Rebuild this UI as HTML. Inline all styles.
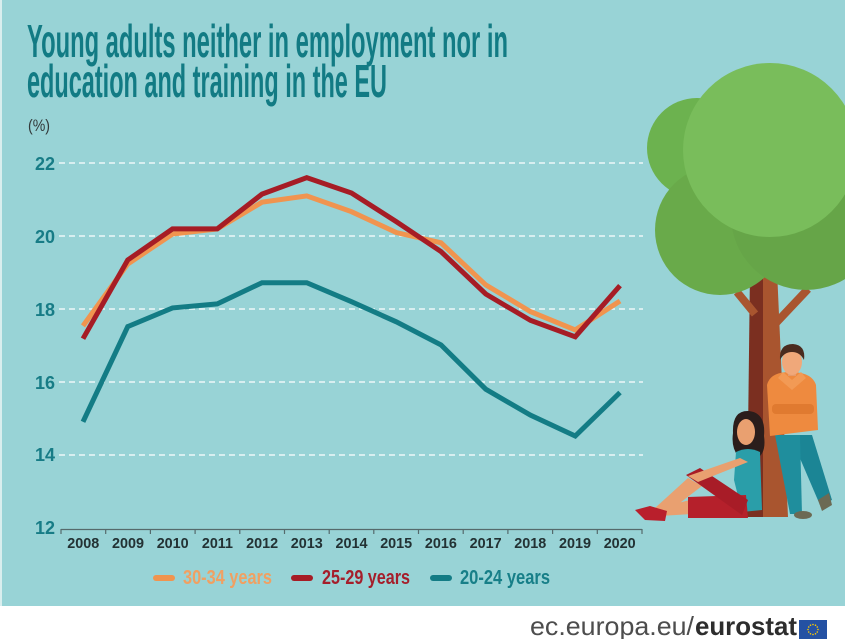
<!DOCTYPE html>
<html>
<head>
<meta charset="utf-8">
<style>
  html, body { margin:0; padding:0; background:#ffffff; }
  body { width:845px; height:639px; overflow:hidden; }
  svg { display:block; }
  .t { font-family:"Liberation Sans Narrow","Liberation Sans",sans-serif; }
</style>
</head>
<body>
<svg width="845" height="639" viewBox="0 0 845 639" xmlns="http://www.w3.org/2000/svg">
  <!-- background panel -->
  <rect x="0" y="0" width="845" height="639" fill="#ffffff"/>
  <rect x="0" y="0" width="845" height="606" fill="#98d3d6"/>
  <rect x="0" y="0" width="2" height="606" fill="#d9eeee"/>

  <!-- Title -->
  <text class="t" x="27" y="57" font-size="46" font-weight="bold" fill="#127b84" textLength="481" lengthAdjust="spacingAndGlyphs">Young adults neither in employment nor in</text>
  <text class="t" x="27" y="97" font-size="46" font-weight="bold" fill="#127b84" textLength="360" lengthAdjust="spacingAndGlyphs">education and training in the EU</text>
  <text class="t" x="28" y="131" font-size="17" fill="#333a3b" textLength="22" lengthAdjust="spacingAndGlyphs">(%)</text>

  <!-- Gridlines -->
  <g stroke="#eef8f8" stroke-width="1.6" stroke-dasharray="6,4" fill="none">
    <line x1="59" y1="163" x2="643" y2="163"/>
    <line x1="59" y1="236" x2="643" y2="236"/>
    <line x1="59" y1="309" x2="643" y2="309"/>
    <line x1="59" y1="382" x2="643" y2="382"/>
    <line x1="59" y1="455" x2="643" y2="455"/>
  </g>

  <!-- Y labels -->
  <g class="t" font-size="18" font-weight="bold" fill="#177c86" text-anchor="end">
    <text x="55" y="170">22</text>
    <text x="55" y="243">20</text>
    <text x="55" y="316">18</text>
    <text x="55" y="389">16</text>
    <text x="55" y="461">14</text>
    <text x="55" y="534">12</text>
  </g>

  <!-- X axis -->
  <line x1="61" y1="529.5" x2="642" y2="529.5" stroke="#556a6c" stroke-width="1.2"/>
  <g stroke="#556a6c" stroke-width="1.2">
    <line x1="61" y1="529" x2="61" y2="534"/>
    <line x1="105.7" y1="529" x2="105.7" y2="534"/>
    <line x1="150.4" y1="529" x2="150.4" y2="534"/>
    <line x1="195.1" y1="529" x2="195.1" y2="534"/>
    <line x1="239.8" y1="529" x2="239.8" y2="534"/>
    <line x1="284.5" y1="529" x2="284.5" y2="534"/>
    <line x1="329.2" y1="529" x2="329.2" y2="534"/>
    <line x1="373.8" y1="529" x2="373.8" y2="534"/>
    <line x1="418.5" y1="529" x2="418.5" y2="534"/>
    <line x1="463.2" y1="529" x2="463.2" y2="534"/>
    <line x1="507.9" y1="529" x2="507.9" y2="534"/>
    <line x1="552.6" y1="529" x2="552.6" y2="534"/>
    <line x1="597.3" y1="529" x2="597.3" y2="534"/>
    <line x1="642" y1="529" x2="642" y2="534"/>
  </g>
  <g class="t" font-size="15" font-weight="bold" fill="#233234" text-anchor="middle">
    <text x="83.3" y="548" textLength="32" lengthAdjust="spacingAndGlyphs">2008</text>
    <text x="128" y="548" textLength="32" lengthAdjust="spacingAndGlyphs">2009</text>
    <text x="172.7" y="548" textLength="32" lengthAdjust="spacingAndGlyphs">2010</text>
    <text x="217.4" y="548" textLength="31" lengthAdjust="spacingAndGlyphs">2011</text>
    <text x="262.1" y="548" textLength="32" lengthAdjust="spacingAndGlyphs">2012</text>
    <text x="306.8" y="548" textLength="32" lengthAdjust="spacingAndGlyphs">2013</text>
    <text x="351.5" y="548" textLength="32" lengthAdjust="spacingAndGlyphs">2014</text>
    <text x="396.2" y="548" textLength="32" lengthAdjust="spacingAndGlyphs">2015</text>
    <text x="440.9" y="548" textLength="32" lengthAdjust="spacingAndGlyphs">2016</text>
    <text x="485.6" y="548" textLength="32" lengthAdjust="spacingAndGlyphs">2017</text>
    <text x="530.3" y="548" textLength="32" lengthAdjust="spacingAndGlyphs">2018</text>
    <text x="575" y="548" textLength="32" lengthAdjust="spacingAndGlyphs">2019</text>
    <text x="619.7" y="548" textLength="32" lengthAdjust="spacingAndGlyphs">2020</text>
  </g>

  <!-- Series -->
  <g fill="none" stroke-width="5" stroke-linejoin="miter" stroke-linecap="butt">
    <polyline stroke="#f0944f" points="83,325.9 127.75,264 172.5,234 217.25,228.9 262,202.2 306.75,195.9 351.5,211.7 396.25,232.5 441,242.8 485.75,284.9 530.5,311.6 575.25,329.9 620,301"/>
    <polyline stroke="#a61c25" points="83,338.7 127.75,260 172.5,228.9 217.25,228.9 262,194.1 306.75,177.6 351.5,193 396.25,221.6 441,251.6 485.75,294 530.5,320.4 575.25,336.8 620,285.6"/>
    <polyline stroke="#137c85" points="83,421.8 127.75,326.6 172.5,307.9 217.25,303.9 262,282.7 306.75,282.7 351.5,301.7 396.25,321.8 441,344.9 485.75,389.2 530.5,415.2 575.25,436 620,392.5"/>
  </g>

  <!-- Legend -->
  <rect x="153" y="575" width="22" height="6" rx="3" fill="#f0944f"/>
  <text class="t" x="183" y="584" font-size="20" font-weight="bold" fill="#f0a062" textLength="89" lengthAdjust="spacingAndGlyphs">30-34 years</text>
  <rect x="291" y="575" width="22" height="6" rx="3" fill="#a61c25"/>
  <text class="t" x="322" y="584" font-size="20" font-weight="bold" fill="#a51e2b" textLength="88" lengthAdjust="spacingAndGlyphs">25-29 years</text>
  <rect x="430" y="575" width="22" height="6" rx="3" fill="#137c85"/>
  <text class="t" x="460" y="584" font-size="20" font-weight="bold" fill="#177f88" textLength="90" lengthAdjust="spacingAndGlyphs">20-24 years</text>

  <!-- Tree -->
  <g>
    <polygon points="750,270 763,270 763,517 747,517" fill="#7b2f20"/>
    <polygon points="763,270 777,270 788,517 763,517" fill="#a9552f"/>
    <line x1="737" y1="292" x2="755" y2="314" stroke="#a9552f" stroke-width="8"/>
    <line x1="775" y1="324" x2="808" y2="289" stroke="#a9552f" stroke-width="8"/>
    <circle cx="697" cy="148" r="50" fill="#6cb24f"/>
    <circle cx="720" cy="230" r="65" fill="#69aa4a"/>
    <circle cx="806" cy="215" r="75" fill="#66a548"/>
    <circle cx="770" cy="150" r="87" fill="#79bd5b"/>
  </g>

  <!-- Man -->
  <g>
    <polygon points="790,435 812,435 832,500 820,505" fill="#1b8595"/>
    <polygon points="775,435 800,435 802,514 790,514" fill="#1f8e9d"/>
    <ellipse cx="803" cy="515" rx="9" ry="4" fill="#6c6a54"/>
    <polygon points="818,500 829,493 832,505 822,511" fill="#6c6a54"/>
    <path d="M767,385 Q770,372 790,372 Q812,372 816,385 L818,430 L770,436 Z" fill="#ee8a3f"/>
    <path d="M783,372 L792,380 L801,372 L806,378 L792,390 L778,378 Z" fill="#f29a55"/>
    <rect x="772" y="404" width="42" height="10" rx="4" fill="#e07a30"/>
    <rect x="788" y="368" width="8" height="8" fill="#e59a6a"/>
    <ellipse cx="792" cy="362" rx="10" ry="13" fill="#f0a87a"/>
    <path d="M780,360 Q779,344 793,344 Q806,345 804,360 Q800,352 792,352 Q784,352 780,360 Z" fill="#4a2b1f"/>
  </g>

  <!-- Woman -->
  <g>
    <!-- extended leg (skin part) -->
    <polygon points="690,500 692,514 660,516 650,510" fill="#e9a070"/>
    <!-- raised leg lower part -->
    <polygon points="688,478 702,486 668,512 655,508" fill="#e9a070"/>
    <!-- shoes -->
    <polygon points="635,510 650,506 667,511 665,521 645,520" fill="#b91f2c"/>
    <!-- hair back -->
    <path d="M733,433 Q732,410 749,411 Q766,413 764,436 Q766,450 760,456 L738,456 Q731,447 733,433 Z" fill="#2b1d1b"/>
    <!-- torso top -->
    <path d="M736,452 Q748,446 760,452 L762,510 L742,512 L734,480 Z" fill="#2a9ea9"/>
    <!-- red pants: extended leg -->
    <polygon points="688,497 746,495 748,518 688,518" fill="#b5202b"/>
    <!-- red pants: raised thigh -->
    <polygon points="686,475 700,468 748,500 742,515" fill="#a81c27"/>
    <!-- arm -->
    <polygon points="740,458 748,462 698,482 688,476" fill="#e9a070"/>
    <!-- face -->
    <ellipse cx="746" cy="432" rx="9" ry="13" fill="#e9a070"/>
  </g>

  <!-- Footer -->
  <text x="530" y="635" font-family="Liberation Sans, sans-serif" font-size="26" fill="#4d4d4d" textLength="164" lengthAdjust="spacingAndGlyphs">ec.europa.eu/</text>
  <text x="695" y="635" font-family="Liberation Sans, sans-serif" font-size="26" font-weight="bold" fill="#2d2d2d" textLength="102" lengthAdjust="spacingAndGlyphs">eurostat</text>
  <rect x="799" y="620" width="28" height="19" fill="#2451a3"/>
  <g fill="#ffcc00">
    <circle cx="813" cy="624.5" r="0.8"/>
    <circle cx="815.5" cy="625.2" r="0.8"/>
    <circle cx="817.3" cy="627" r="0.8"/>
    <circle cx="818" cy="629.5" r="0.8"/>
    <circle cx="817.3" cy="632" r="0.8"/>
    <circle cx="815.5" cy="633.8" r="0.8"/>
    <circle cx="813" cy="634.5" r="0.8"/>
    <circle cx="810.5" cy="633.8" r="0.8"/>
    <circle cx="808.7" cy="632" r="0.8"/>
    <circle cx="808" cy="629.5" r="0.8"/>
    <circle cx="808.7" cy="627" r="0.8"/>
    <circle cx="810.5" cy="625.2" r="0.8"/>
  </g>
</svg>
</body>
</html>
